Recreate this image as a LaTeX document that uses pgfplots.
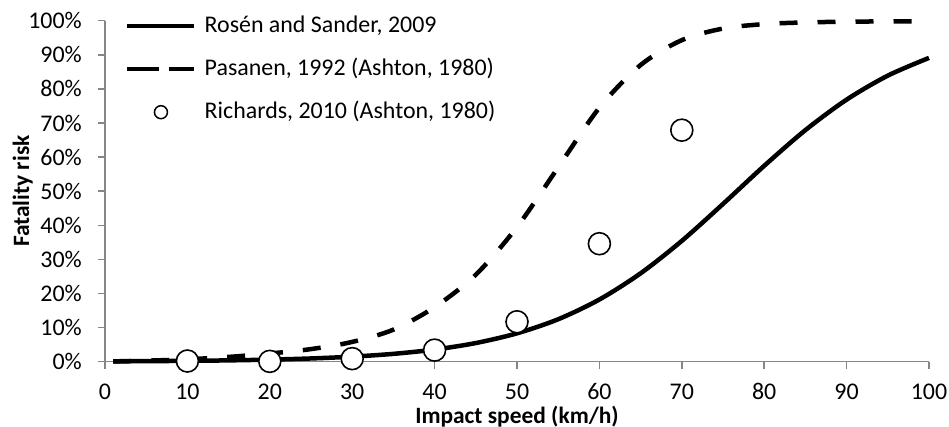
\documentclass[border=0pt]{standalone}
\usepackage{pgfplots}
\pgfplotsset{compat=1.18}
\usepackage{fontspec}
\setmainfont{Carlito}
\definecolor{axgray}{RGB}{134,134,134}
\begin{document}
\begin{tikzpicture}
\begin{axis}[
 name=ax,
 scale only axis, width=824bp, height=341bp,
 xmin=0, xmax=100, ymin=0, ymax=100,
 xtick={0,10,...,100}, ytick={0,10,...,100},
 yticklabel={\pgfmathprintnumber{\tick}\%},
 /pgf/number format/assume math mode=true,
 axis x line*=bottom, axis y line*=left,
 axis line style={axgray, line width=1.5bp, -},
 tick style={axgray, line width=1.5bp},
 tick align=outside, major tick length=7bp,
 ticklabel style={font=\fontsize{24}{28}\selectfont, inner sep=0pt},
 xticklabel style={anchor=base, yshift=-31bp},
 yticklabel style={anchor=east, xshift=-16bp},
 xlabel={Impact speed (km/h)}, ylabel={Fatality risk},
 label style={font=\fontsize{23.5}{27}\selectfont\bfseries, inner sep=0pt},
 xlabel style={at={(axis description cs:0.5,0)}, anchor=base, yshift=-62bp},
 ylabel style={at={(axis description cs:0,0.5)}, anchor=south, yshift=72bp},
 clip=false,
 legend style={at={(rel axis cs:0,1)}, anchor=north west, xshift=20bp, yshift=5.7bp,
   draw=none, fill=none, inner sep=0pt, font=\fontsize{24}{28}\selectfont,
   column sep=8bp, row sep=21bp,
   nodes={inner sep=0pt, text height=17bp, text depth=5bp},
   cells={anchor=west}},
 legend cell align=left,
]
\addplot[black, line width=4.5bp, smooth,
  legend image code/.code={\path[draw=none,fill=none] (0bp,-5bp) rectangle (67bp,5bp);\draw[black,line width=4.5bp,solid] (0bp,0bp) -- (67bp,0bp);}]
 coordinates {(1,0.11) (5,0.16) (10,0.25) (15,0.39) (20,0.61) (25,0.95) (30,1.48) (35,2.30) (40,3.56) (45,5.47) (50,8.32) (55,12.45) (60,18.24) (65,25.92) (70,35.43) (75,46.26) (80,57.44) (85,67.92) (90,76.85) (95,83.89) (100,89.09)};
\addlegendentry{Rosén and Sander, 2009}
\addplot[black, line width=4.5bp, smooth, dash pattern=on 18bp off 20bp,
  legend image code/.code={\path[draw=none,fill=none] (0bp,-5bp) rectangle (67bp,5bp);\draw[black,line width=4.5bp,solid] (0bp,0bp) -- (32bp,0bp) (42bp,0bp) -- (67bp,0bp);}]
 coordinates {(1,0.1) (5,0.3) (10,0.7) (15,1.4) (20,2.4) (25,3.7) (30,5.8) (35,9.4) (40,16.0) (45,25.5) (50,39.5) (55,57.0) (60,74.5) (65,87.0) (70,94.3) (75,97.7) (80,99.0) (85,99.5) (90,99.7) (95,99.8) (100,99.8)};
\addlegendentry{Pasanen, 1992 (Ashton, 1980)}
\addplot[only marks, mark=*, mark size=11bp, mark options={draw=black, fill=white, line width=1.6bp},
  legend image code/.code={\path[draw=none,fill=none] (0bp,-5bp) rectangle (67bp,5bp);\draw[black,line width=1.5bp,fill=white,solid] (33.5bp,0bp) circle (6.5bp);}]
 coordinates {(10,0.2) (20,0.1) (30,0.9) (40,3.4) (50,11.7) (60,34.6) (70,67.9)};
\addlegendentry{Richards, 2010 (Ashton, 1980)}
\end{axis}
\pgfresetboundingbox
\path[use as bounding box] ([xshift=-105bp,yshift=-65.3bp]ax.south west) rectangle ([xshift=20bp,yshift=20.7bp]ax.north east);
\end{tikzpicture}
\end{document}
